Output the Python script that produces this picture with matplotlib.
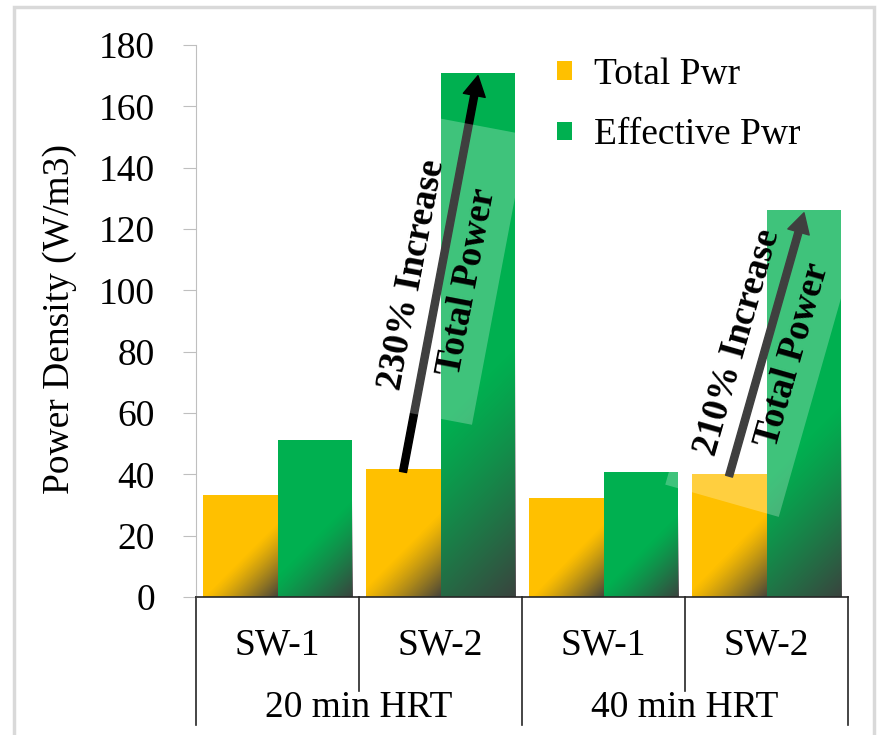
import numpy as np
import matplotlib
matplotlib.use('Agg')
import matplotlib.pyplot as plt
from matplotlib.patches import Rectangle, Polygon, Patch
from matplotlib.transforms import IdentityTransform, blended_transform_factory

plt.rcParams['font.family'] = ['Liberation Serif', 'DejaVu Serif']

# data
subcats = ['SW-1', 'SW-2', 'SW-1', 'SW-2']
groups = ['20 min HRT', '40 min HRT']
total_pwr = [33.4, 41.6, 32.4, 40.2]
effective_pwr = [51.3, 171.0, 40.6, 126.3]
arrow_idx = [1, 3]
arrow_txt = ['230% Increase', '210% Increase']

yellow = '#ffc000'
green = '#00b050'
dark = np.array([0.24, 0.24, 0.24])

fig = plt.figure(figsize=(8.77, 7.35), dpi=100)
fig.patches.append(Rectangle((0.0154, -0.05), 0.981, 1.0405, transform=fig.transFigure,
                             fill=False, ec='#d9d9d9', lw=2.5))
ax = fig.add_axes([196 / 877, 1 - 597 / 735, 652 / 877, 552 / 735])

x = np.arange(len(subcats))
w = 0.46
ax.set_xlim(-0.5, len(subcats) - 0.5)
ax.set_ylim(0, 180)

bars_t = ax.bar(x - w / 2, total_pwr, w, color=yellow, zorder=2, label='Total Pwr')
bars_e = ax.bar(x + w / 2, effective_pwr, w, color=green, zorder=2, label='Effective Pwr')


def add_shade(p):
    # diagonal darkening towards the lower right corner of a bar
    x0, y0, bw, bh = p.get_x(), p.get_y(), p.get_width(), p.get_height()
    (px0, py0), (px1, py1) = ax.transData.transform([(x0, y0), (x0 + bw, y0 + bh)])
    wpx, hpx = px1 - px0, py1 - py0
    X, Y = np.meshgrid(np.linspace(0, wpx, max(int(wpx), 2)),
                       np.linspace(0, hpx, max(int(hpx), 2)))
    t = (X + (hpx - Y)) / (wpx + hpx)
    a = np.clip((t - 0.58) / 0.42, 0, 1) ** 1.2 * 0.95
    img = np.zeros(X.shape + (4,))
    img[..., :3] = dark
    img[..., 3] = a
    im = ax.imshow(img, extent=(x0, x0 + bw, y0, y0 + bh), origin='lower',
                   aspect='auto', zorder=2.5, interpolation='bilinear')
    im.set_clip_path(p)


for p in list(bars_t) + list(bars_e):
    add_shade(p)
ax.set_xlim(-0.5, len(subcats) - 0.5)
ax.set_ylim(0, 180)

# axes styling
ax.set_yticks(np.arange(0, 181, 20))
ax.tick_params(axis='y', length=9.5, color='#bfbfbf', labelsize=27, pad=20)
ax.set_xticks([])
for s in ['top', 'right']:
    ax.spines[s].set_visible(False)
ax.spines['left'].set_color('#bfbfbf')
ax.spines['bottom'].set_color('#262626')
ax.spines['bottom'].set_linewidth(1.2)
ax.set_ylabel('Power Density (W/m3)', fontsize=27)
ax.yaxis.set_label_coords(-0.182, 0.504)

# two-level category axis
tr = blended_transform_factory(ax.transData, ax.transAxes)
for xv in [-0.5, 1.5, 3.5]:
    ax.plot([xv, xv], [0, -0.232], transform=tr, color='#262626', lw=1.2, clip_on=False)
for xv in [0.5, 2.5]:
    ax.plot([xv, xv], [0, -0.170], transform=tr, color='#262626', lw=1.2, clip_on=False)
for xi, lab in zip(x, subcats):
    ax.text(xi, -0.087, lab, transform=tr, ha='center', va='center', fontsize=27)
for gi, lab in enumerate(groups):
    ax.text(2 * gi + 0.5, -0.2, lab, transform=tr, ha='center', va='center', fontsize=27)

# arrows with rotated notes and translucent text boxes
box_len = [295, 315]
box_shift = [5, -5]
for k, i in enumerate(arrow_idx):
    p0 = ax.transData.transform((x[i] - w / 2, total_pwr[i] - 0.8))
    p1 = ax.transData.transform((x[i] + w / 2, effective_pwr[i] - 1.0))
    ax.annotate('', xy=(x[i] + w / 2, effective_pwr[i] - 1.0),
                xytext=(x[i] - w / 2, total_pwr[i] - 0.8),
                arrowprops=dict(arrowstyle='simple,head_length=0.9,head_width=1.0,tail_width=0.32',
                                mutation_scale=16, color='black', shrinkA=0, shrinkB=0),
                zorder=4)
    d = (p1 - p0) / np.hypot(*(p1 - p0))
    n = np.array([d[1], -d[0]])
    mid = (p0 + p1) / 2
    c = mid + d * box_shift[k]
    L, W = box_len[k], 118
    corners = [c - d * L / 2 - n * W / 2, c - d * L / 2 + n * W / 2,
               c + d * L / 2 + n * W / 2, c + d * L / 2 - n * W / 2]
    ax.add_patch(Polygon(corners, closed=True, transform=IdentityTransform(),
                         fc='white', alpha=0.25, ec='none', zorder=5, clip_on=False))
    ang = np.degrees(np.arctan2(d[1], d[0]))
    t1 = mid - n * 28 - d * 6
    t2 = mid + n * 28 - d * 3
    for pos, s in [(t1, arrow_txt[k]), (t2, 'Total Power')]:
        ax.text(pos[0], pos[1], s, transform=IdentityTransform(), rotation=ang,
                rotation_mode='anchor', ha='center', va='center', fontsize=26.5,
                fontweight='bold', zorder=6)

handles = [Patch(facecolor=yellow, label='Total Pwr'), Patch(facecolor=green, label='Effective Pwr')]
ax.legend(handles=handles, loc='upper left', bbox_to_anchor=(0.553, 0.978), frameon=False,
          fontsize=27, handlelength=0.4, handleheight=0.4, handletextpad=0.6,
          labelspacing=0.7, borderaxespad=0, borderpad=0)

fig.savefig('out.png', dpi=100)
